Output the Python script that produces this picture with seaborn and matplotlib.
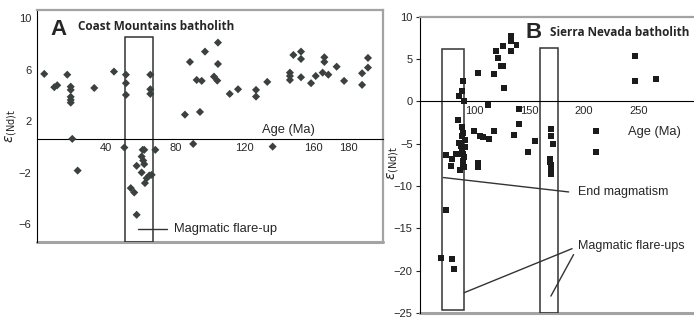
import seaborn as sns
import matplotlib.pyplot as plt
import matplotlib.transforms as mtransforms
from matplotlib.patches import Rectangle
import pandas as pd

# Coast Mountains batholith (panel A)
coast_age = [4.2, 10.0, 11.7, 17.5, 19.5, 19.5, 19.5, 19.5, 19.5, 33.1, 44.5,
             51.4, 51.4, 51.4, 65.5, 65.5, 65.5, 85.5, 88.4, 92.3, 95.2, 94.2,
             97.1, 102.3, 104.2, 104.6, 104.6, 111.4, 116.2, 126.6, 126.6, 133.1,
             146.2, 146.2, 146.2, 148.2, 152.6, 152.6, 152.6, 158.4, 161.1, 165.1,
             166.1, 166.1, 168.4, 173.2, 177.5, 187.9, 187.9, 191.3, 191.3,
             20.4, 23.5, 50.5, 61.1, 62.0, 68.4, 60.5, 61.4, 62.0, 57.6, 60.5,
             62.4, 63.4, 64.9, 66.3, 54.2, 56.2, 57.6, 90.3, 136.2]
coast_eps = [5.04, 4.01, 4.16, 4.98, 4.05, 3.80, 3.26, 3.02, 2.81, 3.95, 5.22,
             4.98, 4.32, 3.41, 4.98, 3.85, 3.49, 1.88, 5.97, 4.57, 4.50, 2.09,
             6.77, 4.83, 4.52, 7.47, 5.81, 3.49, 3.85, 3.80, 3.28, 4.42,
             5.14, 4.88, 4.57, 6.51, 6.77, 6.20, 4.78, 4.32, 4.88, 5.14,
             6.33, 5.97, 4.98, 5.60, 4.50, 5.09, 4.19, 6.28, 5.53,
             0.0, -2.46, -0.67, -0.85, -0.85, -0.85, -1.37, -1.68, -1.96, -2.09, -2.61,
             -3.43, -3.05, -2.84, -2.79, -3.82, -4.16, -5.89, -0.39, -0.60]

# Sierra Nevada batholith (panel B)
sierra_age = [133.5, 133.5, 138.6, 133.5, 126.5, 120.1, 121.9, 126.7, 124.4, 103.3,
              118.2, 127.4, 90.1, 88.5, 86.2, 90.8, 112.5, 141.1, 141.1, 136.5,
              99.9, 105.4, 108.2, 118.2, 113.9, 155.8, 148.9, 211.4, 211.4, 246.7,
              246.7, 266.3, 103.8, 103.8, 170.4, 170.4, 172.0, 169.5, 169.5, 170.4,
              170.4, 170.4, 85.5, 88.9, 90.1, 88.9, 91.7, 86.2, 88.0, 91.7, 88.9,
              86.2, 83.4, 89.8, 79.5, 74.3, 91.0, 90.1, 90.1, 78.8, 87.1, 90.8,
              74.3, 69.7, 79.8, 81.3]
sierra_eps = [7.67, 7.08, 6.61, 5.90, 6.53, 5.99, 5.11, 4.17, 4.17, 3.34,
              3.25, 1.57, 2.42, 1.18, 0.65, 0.04, -0.39, -0.86, -2.72, -3.93,
              -3.51, -4.10, -4.21, -3.48, -4.49, -4.69, -5.94, -3.54, -5.96, 5.35,
              2.36, 2.63, -7.32, -7.79, -3.22, -4.10, -4.99, -6.77, -7.17, -7.50,
              -7.85, -8.62, -2.24, -3.03, -3.70, -4.13, -4.52, -4.96, -5.31, -5.43, -5.79,
              -6.26, -6.17, -6.26, -6.85, -6.29, -6.61, -7.00, -7.40, -7.64, -8.06, -7.79,
              -12.87, -18.45, -18.57, -19.75]

coast_ticks = [40, 80, 120, 160, 180]
sierra_ticks = [100, 150, 200, 250]

coast = pd.DataFrame({"age": coast_age, "eps": coast_eps})
sierra = pd.DataFrame({"age": sierra_age, "eps": sierra_eps})

sns.set_style("white")
plt.rcParams['font.family'] = ['Liberation Sans', 'DejaVu Sans']

fig = plt.figure(figsize=(6.94, 3.19), dpi=100)
ax_a = fig.add_axes([0.0533, 0.2414, 0.4986, 0.7273])
ax_b = fig.add_axes([0.6045, 0.0188, 0.3941, 0.9288])

gray = "#a3a3a3"
ylab = r"$\varepsilon_{\rm (Nd)t}$"

# ---------- panel A ----------
sns.scatterplot(data=coast, x="age", y="eps", marker="D", s=17, color="#3b413e",
                edgecolor="none", ax=ax_a, zorder=3)
ax_a.set_xlim(0, 200)
ax_a.set_ylim(-8, 10)
ax_a.spines["bottom"].set_position(("data", 0))
ax_a.spines["bottom"].set_color("black")
ax_a.spines["left"].set_color("black")
ax_a.spines["top"].set_color(gray)
ax_a.spines["right"].set_color(gray)
for sp in ["top", "right"]:
    ax_a.spines[sp].set_linewidth(1.6)
ax_a.plot([0, 1], [0, 0], transform=ax_a.transAxes, color=gray, lw=2.2, clip_on=False)
ax_a.set_xticks(coast_ticks)
ax_a.set_xticks([20, 60, 100, 140], minor=True)
ax_a.tick_params(axis="x", which="both", direction="in", length=3, labelsize=8, pad=3)
ax_a.set_yticks([10, 6, 2, -2, -6])
ax_a.set_yticklabels(["10", "6", "2", "\u22122", "\u22126"])
ax_a.tick_params(axis="y", length=0, labelsize=8, pad=4)
offset = mtransforms.ScaledTranslation(0, -8 / 100, fig.dpi_scale_trans)
for lab in ax_a.get_yticklabels():
    lab.set_transform(lab.get_transform() + offset)
ax_a.set_xlabel("")
ax_a.set_ylabel(ylab, fontsize=10)
ax_a.yaxis.set_label_coords(-0.053, 0.5)

ax_a.add_patch(Rectangle((50.9, -8), 16.3, 15.88, fill=False, ec="#333333", lw=1.1, zorder=2))
ax_a.plot([58.4, 75.1], [-6.98, -6.98], color="#333333", lw=1)
ax_a.text(79.2, -6.98, "Magmatic flare-up", fontsize=9.3, va="center")
ax_a.text(130, 0.7, "Age (Ma)", fontsize=9.3, va="center")
ax_a.text(7.5, 8.06, "A", fontsize=16, fontweight="bold", va="baseline")
ax_a.text(23.7, 8.45, "Coast Mountains batholith", fontsize=8.5, fontweight="bold",
          va="baseline", family=["Open Sans", "DejaVu Sans"])

# ---------- panel B ----------
sns.scatterplot(data=sierra, x="age", y="eps", marker="s", s=18, color="#1b1b1b",
                edgecolor="none", ax=ax_b, zorder=3)
ax_b.set_xlim(50, 300)
ax_b.set_ylim(-25, 10)
ax_b.spines["bottom"].set_position(("data", 0))
ax_b.spines["bottom"].set_color("black")
ax_b.spines["left"].set_color("black")
ax_b.spines["top"].set_color(gray)
ax_b.spines["top"].set_linewidth(1.6)
ax_b.spines["right"].set_visible(False)
ax_b.plot([0, 1], [0, 0], transform=ax_b.transAxes, color=gray, lw=2.2, clip_on=False)
ax_b.set_xticks(sierra_ticks)
ax_b.tick_params(axis="x", direction="in", length=3, labelsize=8, pad=3)
ax_b.set_yticks(range(-25, 11, 5))
ax_b.set_yticklabels([str(v).replace("-", "\u2212") for v in range(-25, 11, 5)])
ax_b.tick_params(axis="y", direction="out", length=3, labelsize=8, pad=2, left=True)
ax_b.set_xlabel("")
ax_b.set_ylabel(ylab, fontsize=10)
ax_b.yaxis.set_label_coords(-0.068, 0.506)

ax_b.add_patch(Rectangle((70.3, -24.7), 20.5, 30.84, fill=False, ec="#333333", lw=1.1, zorder=2))
ax_b.add_patch(Rectangle((159.7, -25), 16.5, 31.3, fill=False, ec="#333333", lw=1.1, zorder=2))
ax_b.plot([71.8, 186.3], [-9.0, -10.7], color="#333333", lw=1)
ax_b.plot([90.8, 189.4], [-22.6, -17.4], color="#333333", lw=1)
ax_b.plot([170.1, 190.8], [-23.0, -18.1], color="#333333", lw=1)
ax_b.text(194.5, -10.7, "End magmatism", fontsize=9, va="center")
ax_b.text(194.5, -17.1, "Magmatic flare-ups", fontsize=9, va="center")
ax_b.text(240.9, -3.62, "Age (Ma)", fontsize=9.3, va="center")
ax_b.text(146.6, 7.44, "B", fontsize=16, fontweight="bold", va="baseline")
ax_b.text(169.5, 7.67, "Sierra Nevada batholith", fontsize=8.5, fontweight="bold",
          va="baseline", family=["Open Sans", "DejaVu Sans"])

fig.savefig("out.png", dpi=100)
